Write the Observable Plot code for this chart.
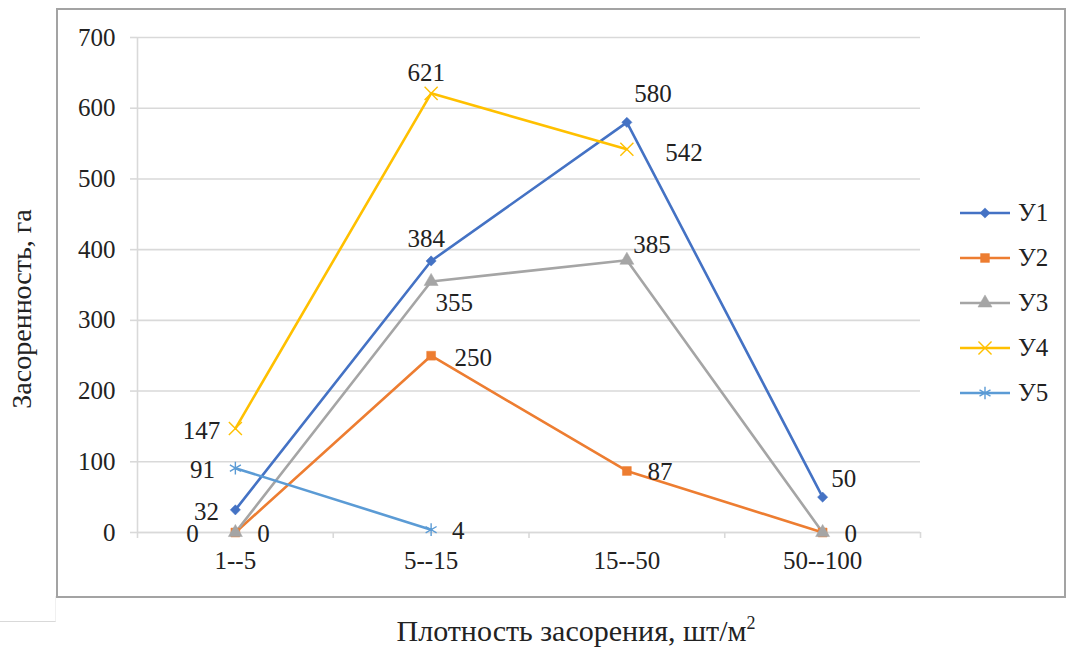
<!DOCTYPE html>
<html>
<head>
<meta charset="utf-8">
<script src="https://cdn.jsdelivr.net/npm/d3@7"></script>
<script src="https://cdn.jsdelivr.net/npm/@observablehq/plot@0.6"></script>
<style>
  html, body { margin: 0; padding: 0; background: #fff; }
  #wrap { position: relative; width: 1067px; height: 655px; overflow: hidden; }
  #box { position: absolute; left: 56px; top: 8px; width: 1006px; height: 586px; border: 2px solid #a3a3a3; }
  #artifact { position: absolute; left: 0; top: 596px; width: 55px; height: 25px; border-bottom: 1px solid #d9d9d9; border-right: 1px solid #f0f0f0; }
  #chart { position: absolute; left: 0; top: 0; }
  #ytitle { position: absolute; left: 22px; top: 309px; transform: translate(-50%, -50%) rotate(-90deg); white-space: nowrap; font-size: 28px; color: #222; }
  #xtitle { position: absolute; left: 576px; top: 631px; transform: translate(-50%, -50%); white-space: nowrap; font-size: 30px; color: #222; }
  #xtitle sup { font-size: 18px; vertical-align: 12px; line-height: 0; }
  #legend { position: absolute; left: 958px; top: 190px; }
  .item { display: flex; align-items: center; height: 45.2px; font-size: 25px; color: #222; }
  .item svg { margin-right: 6px; }
</style>
</head>
<body>
<div id="wrap">
  <div id="box"></div>
  <div id="artifact"></div>
  <div id="chart"></div>
  <div id="ytitle">Засоренность, га</div>
  <div id="xtitle">Плотность засорения, шт/м<sup>2</sup></div>
  <div id="legend"></div>
</div>
<script>
// ---- data ----
const categories = ["1--5", "5--15", "15--50", "50--100"];
const seriesNames = ["У1", "У2", "У3", "У4", "У5"];
const u1 = [32, 384, 580, 50];
const u2 = [0, 250, 87, 0];
const u3 = [0, 355, 385, 0];
const u4 = [147, 621, 542];
const u5 = [91, 4];
const yTicks = [0, 100, 200, 300, 400, 500, 600, 700];

// ---- styling ----
const colors = ["#4472C4", "#ED7D31", "#A5A5A5", "#FFC000", "#5B9BD5"];
const symbols = ["diamond2", "square", "triangle", "times", "asterisk"];
const filled = [true, true, true, false, false];
// data label offsets [dx, dy] per point (null = no label)
const labelOffsets = [
  [[-29, 2], [-5, -22], [26, -28], [21, -18]],
  [[-43, 1], [42, 2], [33, 1], [28, 1]],
  [[28, 1], [23, 22], [25, -15], null],
  [[-34, 2], [-5, -20], [57, 4]],
  [[-33, 2], [27, 1]]
];

const seriesValues = [u1, u2, u3, u4, u5];
const rows = [];
seriesValues.forEach((vals, s) => {
  vals.forEach((v, i) => rows.push({series: seriesNames[s], s, i, cat: categories[i], value: v}));
});

const font = "Liberation Serif";
const grid = "#d9d9d9";

const labelMarks = rows
  .filter(r => labelOffsets[r.s][r.i])
  .map(r => Plot.text([r], {
    x: "i", y: "value", text: d => String(d.value),
    dx: labelOffsets[r.s][r.i][0], dy: labelOffsets[r.s][r.i][1],
    fill: "#222", fontSize: 25, fontFamily: font
  }));

const symbolSizes = [4.6, 5, 5.2, 6, 6];

const chart = Plot.plot({
  width: 1067,
  height: 655,
  marginLeft: 137,
  marginRight: 147,
  marginTop: 37,
  marginBottom: 123,
  style: {fontFamily: font, fontSize: "25px", color: "#222", background: "transparent", overflow: "visible"},
  x: {type: "linear", domain: [-0.5, categories.length - 0.5]},
  y: {domain: [0, 700]},
  color: {domain: seriesNames, range: colors},
  symbol: {domain: seriesNames, range: symbols},
  marks: [
    Plot.gridY(yTicks, {stroke: grid, strokeOpacity: 1, strokeWidth: 1.6}),
    Plot.ruleX([-0.5], {stroke: grid, strokeWidth: 1.6}),
    Plot.ruleY([0], {stroke: grid, strokeWidth: 1.6}),
    Plot.axisY({ticks: yTicks, tickSize: 7, tickPadding: 15, stroke: grid, strokeWidth: 1.6, label: null, fill: "#222", fontSize: 25, fontFamily: font}),
    Plot.axisX({ticks: d3.range(categories.length + 1).map(k => k - 0.5), tickSize: 6, tickFormat: () => "", stroke: grid, strokeWidth: 1.6, label: null}),
    Plot.axisX({ticks: d3.range(categories.length), tickSize: 0, tickPadding: 19, tickFormat: i => categories[i], label: null, fill: "#222", fontSize: 25, fontFamily: font}),
    Plot.line(rows, {x: "i", y: "value", z: "series", stroke: "series", strokeWidth: 2.6}),
    ...seriesNames.map((name, s) => Plot.dot(rows.filter(r => r.s === s), {
      x: "i", y: "value", symbol: "series", r: symbolSizes[s],
      fill: filled[s] ? colors[s] : "none",
      stroke: colors[s], strokeWidth: filled[s] ? 0.5 : 1.4
    })),
    ...labelMarks
  ]
});
document.getElementById("chart").appendChild(chart);

// legend
const d3sym = {diamond2: d3.symbolDiamond2, square: d3.symbolSquare, triangle: d3.symbolTriangle, times: d3.symbolTimes, asterisk: d3.symbolAsterisk};
const legend = d3.select("#legend");
seriesNames.forEach((name, s) => {
  const item = legend.append("div").attr("class", "item");
  const svg = item.append("svg").attr("width", 54).attr("height", 20);
  svg.append("line").attr("x1", 2).attr("x2", 52).attr("y1", 10).attr("y2", 10)
    .attr("stroke", colors[s]).attr("stroke-width", 2.6);
  svg.append("path")
    .attr("transform", "translate(27,10)")
    .attr("d", d3.symbol(d3sym[symbols[s]], Math.PI * symbolSizes[s] * symbolSizes[s])())
    .attr("fill", filled[s] ? colors[s] : "none")
    .attr("stroke", colors[s]).attr("stroke-width", filled[s] ? 0.5 : 1.4);
  item.append("span").text(name);
});

// force the serif face on every element (inline !important)
document.querySelectorAll("body, body *").forEach(el => {
  el.style.setProperty("font-family", "'Liberation Serif', serif", "important");
});
</script>
</body>
</html>
